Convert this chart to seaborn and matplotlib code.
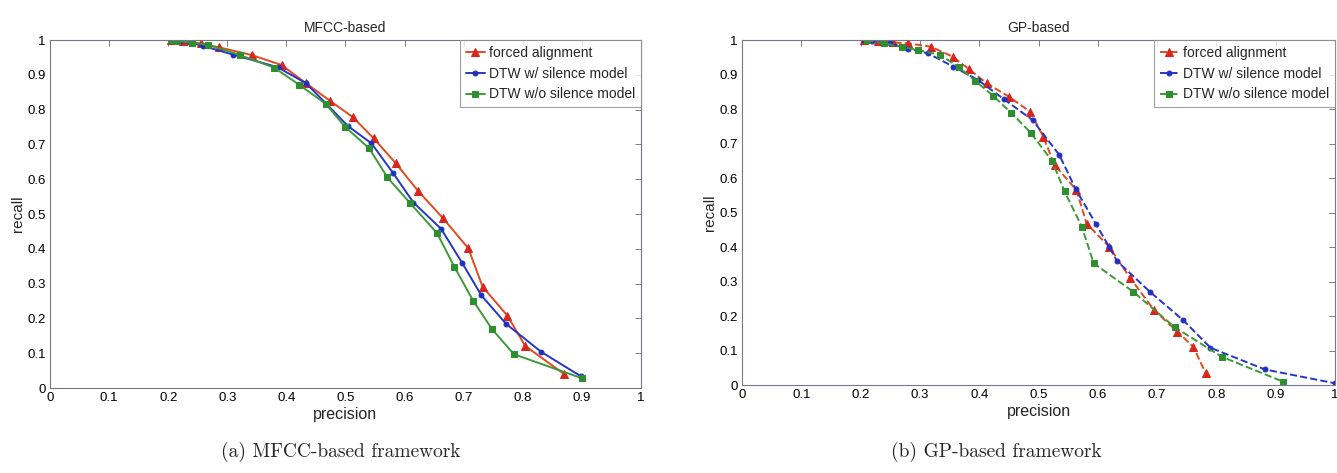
import numpy as np
import pandas as pd
import matplotlib
matplotlib.use("Agg")
import matplotlib.pyplot as plt
import seaborn as sns

# --- data (precision, recall) ---
labels = ["forced alignment", "DTW w/ silence model", "DTW w/o silence model"]

mfcc_fa_p = [0.205, 0.225, 0.255, 0.286, 0.341, 0.392, 0.433, 0.474, 0.512, 0.548,
             0.585, 0.623, 0.665, 0.708, 0.732, 0.774, 0.804, 0.870]
mfcc_fa_r = [1.0, 0.997, 0.99, 0.979, 0.957, 0.928, 0.876, 0.825, 0.779, 0.717,
             0.646, 0.566, 0.488, 0.401, 0.291, 0.208, 0.121, 0.040]

mfcc_ws_p = [0.205, 0.22, 0.235, 0.259, 0.31, 0.385, 0.433, 0.468, 0.504, 0.544,
             0.580, 0.615, 0.662, 0.698, 0.730, 0.772, 0.831, 0.898]
mfcc_ws_r = [1.0, 0.997, 0.993, 0.983, 0.958, 0.922, 0.876, 0.816, 0.753, 0.703,
             0.619, 0.533, 0.457, 0.358, 0.266, 0.184, 0.104, 0.034]

mfcc_wo_p = [0.205, 0.215, 0.24, 0.268, 0.321, 0.379, 0.422, 0.467, 0.499, 0.540,
             0.571, 0.609, 0.655, 0.684, 0.716, 0.748, 0.785, 0.900]
mfcc_wo_r = [1.0, 0.998, 0.992, 0.986, 0.957, 0.921, 0.871, 0.816, 0.751, 0.689,
             0.605, 0.532, 0.445, 0.349, 0.251, 0.169, 0.097, 0.028]

gp_fa_p = [0.205, 0.23, 0.255, 0.280, 0.318, 0.355, 0.383, 0.413, 0.450, 0.486,
           0.508, 0.527, 0.564, 0.581, 0.619, 0.655, 0.695, 0.734, 0.761, 0.782]
gp_fa_r = [1.0, 0.997, 0.993, 0.990, 0.981, 0.952, 0.915, 0.874, 0.836, 0.792,
           0.720, 0.638, 0.565, 0.468, 0.401, 0.309, 0.217, 0.155, 0.111, 0.034]

gp_ws_p = [0.205, 0.22, 0.25, 0.28, 0.314, 0.356, 0.398, 0.442, 0.490, 0.535,
           0.563, 0.597, 0.619, 0.632, 0.688, 0.744, 0.790, 0.882, 1.0]
gp_ws_r = [1.0, 0.998, 0.99, 0.975, 0.961, 0.923, 0.884, 0.828, 0.768, 0.667,
           0.567, 0.466, 0.401, 0.360, 0.270, 0.188, 0.108, 0.045, 0.005]

gp_wo_p = [0.21, 0.24, 0.27, 0.297, 0.334, 0.366, 0.393, 0.423, 0.454, 0.487,
           0.523, 0.544, 0.573, 0.593, 0.660, 0.730, 0.809, 0.912]
gp_wo_r = [1.0, 0.99, 0.98, 0.971, 0.957, 0.921, 0.882, 0.839, 0.789, 0.731,
           0.649, 0.561, 0.459, 0.353, 0.270, 0.167, 0.082, 0.010]

ticks = np.round(np.arange(0, 1.01, 0.1), 1)
tick_labels = ["0"] + [f"{t:g}" for t in ticks[1:-1]] + ["1"]

sns.set_style("white")
plt.rcParams["font.family"] = ["Liberation Sans", "DejaVu Sans"]

line_colors = ["#e24a1f", "#2535cc", "#3d9a3a"]
marker_colors = ["#d8261c", "#2030c0", "#2f8f30"]
markers = ["^", "o", "s"]
msizes = [5.5, 3.5, 4.5]


def draw_panel(ax, series, title, ls):
    for i, (p, r) in enumerate(series):
        sns.lineplot(x=p, y=r, ax=ax, sort=False, estimator=None,
                     color=line_colors[i], linestyle=ls, lw=1.4,
                     marker=markers[i], markersize=msizes[i],
                     markerfacecolor=marker_colors[i], markeredgecolor=marker_colors[i],
                     label=labels[i])
    ax.set_xlim(0, 1)
    ax.set_ylim(0, 1)
    ax.set_xticks(ticks)
    ax.set_yticks(ticks)
    ax.set_xticklabels(tick_labels)
    ax.set_yticklabels(tick_labels)
    ax.tick_params(direction="in", length=4, width=0.6, labelsize=9.5, pad=3,
                   top=True, right=True, colors="#666677", labelcolor="black")
    for s in ax.spines.values():
        s.set_visible(True)
        s.set_color("#777788")
        s.set_linewidth(0.8)
    ax.set_xlabel("precision", fontsize=11.5, labelpad=2)
    ax.set_ylabel("recall", fontsize=11, labelpad=2)
    ax.set_title(title, fontsize=10, pad=6)
    leg = ax.legend(loc="upper right", fontsize=10, handlelength=1.4,
                    handletextpad=0.3, borderpad=0.4, labelspacing=0.5,
                    frameon=True, fancybox=False, borderaxespad=0.0)
    leg.get_frame().set_edgecolor("#888888")
    leg.get_frame().set_linewidth(0.8)


fig = plt.figure(figsize=(13.37, 4.73), dpi=100)
ax1 = fig.add_axes([0.0374, 0.1797, 0.4420, 0.7357])
ax2 = fig.add_axes([0.5550, 0.1860, 0.4435, 0.7294])

draw_panel(ax1, [(mfcc_fa_p, mfcc_fa_r), (mfcc_ws_p, mfcc_ws_r), (mfcc_wo_p, mfcc_wo_r)],
           "MFCC-based", "-")
draw_panel(ax2, [(gp_fa_p, gp_fa_r), (gp_ws_p, gp_ws_r), (gp_wo_p, gp_wo_r)],
           "GP-based", "--")

fig.text(0.255, 0.035, "(a) MFCC-based framework", ha="center", fontsize=14,
         family=["cmr10", "DejaVu Serif"])
fig.text(0.745, 0.035, "(b) GP-based framework", ha="center", fontsize=14,
         family=["cmr10", "DejaVu Serif"])

fig.savefig("out.png", dpi=100)
